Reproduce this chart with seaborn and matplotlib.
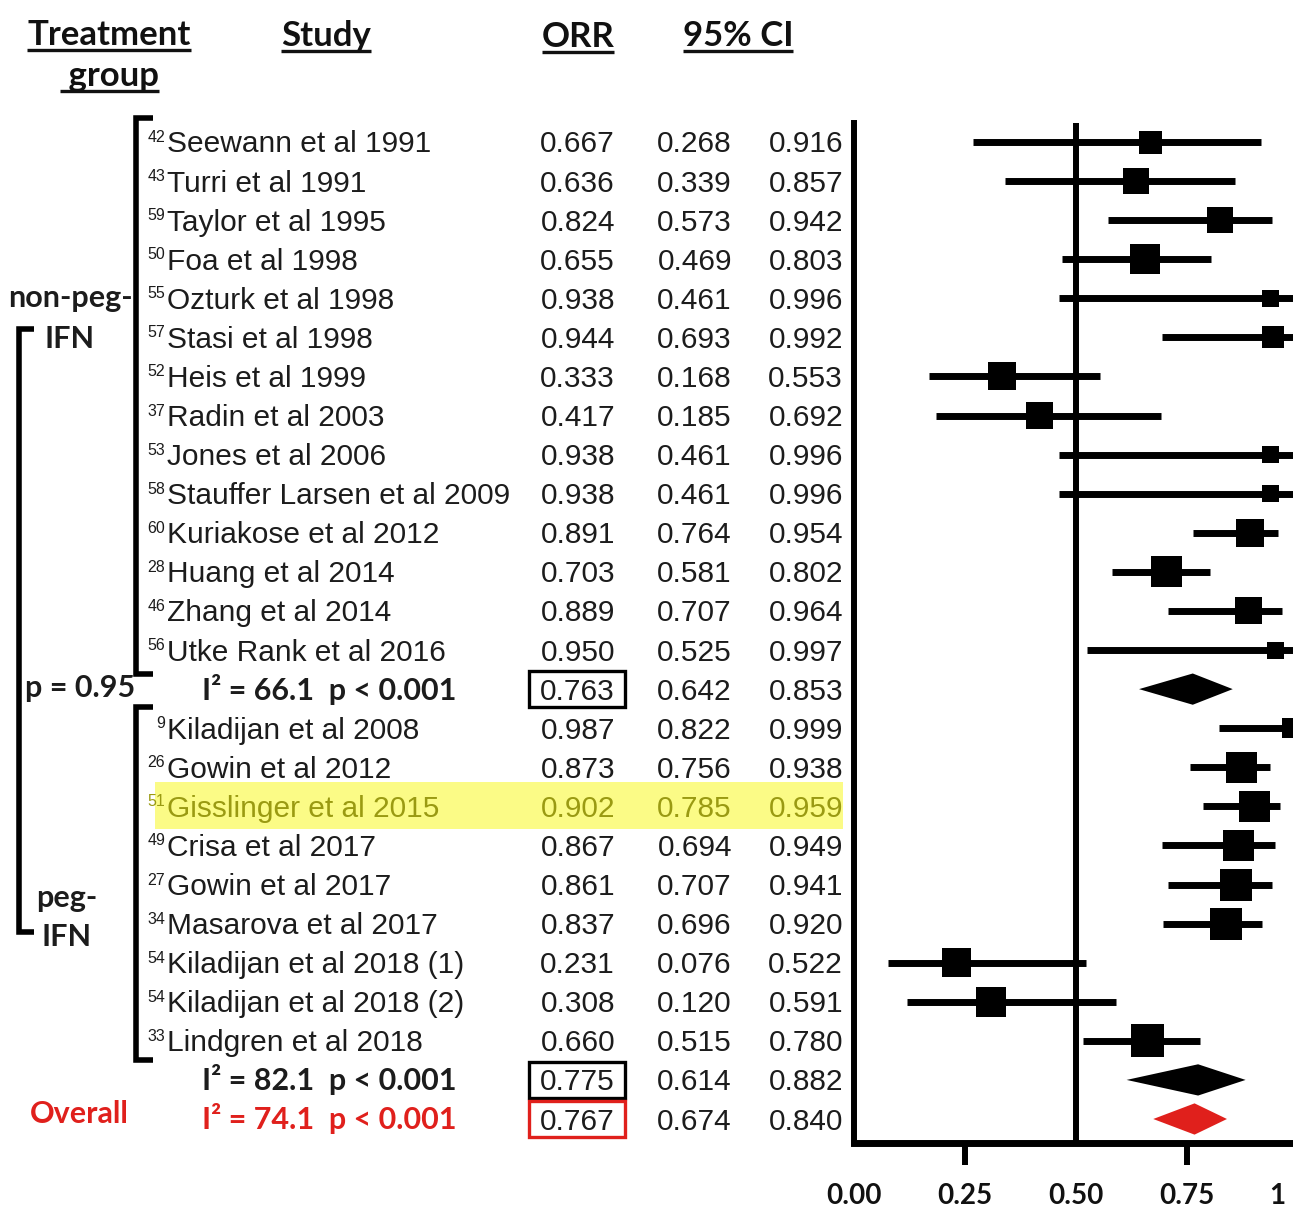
import matplotlib
matplotlib.use("Agg")
import pandas as pd
import matplotlib.pyplot as plt
import matplotlib.transforms as mtransforms
from matplotlib.patches import Rectangle, Polygon
import seaborn as sns

# ---------------- data ----------------
nonpeg_study = ["Seewann et al 1991", "Turri et al 1991", "Taylor et al 1995", "Foa et al 1998",
                "Ozturk et al 1998", "Stasi et al 1998", "Heis et al 1999", "Radin et al 2003",
                "Jones et al 2006", "Stauffer Larsen et al 2009", "Kuriakose et al 2012",
                "Huang et al 2014", "Zhang et al 2014", "Utke Rank et al 2016"]
nonpeg_ref = ["42", "43", "59", "50", "55", "57", "52", "37", "53", "58", "60", "28", "46", "56"]
nonpeg_orr = [0.667, 0.636, 0.824, 0.655, 0.938, 0.944, 0.333, 0.417, 0.938, 0.938, 0.891, 0.703, 0.889, 0.950]
nonpeg_lo = [0.268, 0.339, 0.573, 0.469, 0.461, 0.693, 0.168, 0.185, 0.461, 0.461, 0.764, 0.581, 0.707, 0.525]
nonpeg_hi = [0.916, 0.857, 0.942, 0.803, 0.996, 0.992, 0.553, 0.692, 0.996, 0.996, 0.954, 0.802, 0.964, 0.997]
nonpeg_weight = [23, 26, 26, 30, 17, 22, 28, 27, 17, 17, 28, 31, 27, 17]

peg_study = ["Kiladijan et al 2008", "Gowin et al 2012", "Gisslinger et al 2015", "Crisa et al 2017",
             "Gowin et al 2017", "Masarova et al 2017", "Kiladijan et al 2018 (1)",
             "Kiladijan et al 2018 (2)", "Lindgren et al 2018"]
peg_ref = ["9", "26", "51", "49", "27", "34", "54", "54", "33"]
peg_orr = [0.987, 0.873, 0.902, 0.867, 0.861, 0.837, 0.231, 0.308, 0.660]
peg_lo = [0.822, 0.756, 0.785, 0.694, 0.707, 0.696, 0.076, 0.120, 0.515]
peg_hi = [0.999, 0.938, 0.959, 0.949, 0.941, 0.920, 0.522, 0.591, 0.780]
peg_weight = [20, 31, 31, 31, 32, 32, 29, 30, 33]

# pooled estimates: non-peg, peg, overall
pooled_name = ["non-peg", "peg", "overall"]
pooled_orr = [0.763, 0.775, 0.767]
pooled_lo = [0.642, 0.614, 0.674]
pooled_hi = [0.853, 0.882, 0.840]
pooled_i2 = ["66.1", "82.1", "74.1"]
between_p = "0.95"
highlight_study = "Gisslinger et al 2015"

xtick_vals = [0, 0.25, 0.5, 0.75, 1]
xtick_text = ["0.00", "0.25", "0.50", "0.75", "1"]

# ---------------- table ----------------
n1 = len(nonpeg_study)
df = pd.DataFrame({
    "study": nonpeg_study + peg_study,
    "ref": nonpeg_ref + peg_ref,
    "orr": nonpeg_orr + peg_orr,
    "lo": nonpeg_lo + peg_lo,
    "hi": nonpeg_hi + peg_hi,
    "weight": nonpeg_weight + peg_weight,
    "row": list(range(n1)) + list(range(n1 + 1, n1 + 1 + len(peg_study))),
})
pooled = pd.DataFrame({"name": pooled_name, "orr": pooled_orr, "lo": pooled_lo,
                       "hi": pooled_hi, "i2": pooled_i2,
                       "row": [n1, n1 + 1 + len(peg_study), n1 + 2 + len(peg_study)]})

sns.set_theme(style="white")
plt.rcParams['font.family'] = ['Liberation Sans', 'DejaVu Sans']

W, H = 1293, 1210
fig = plt.figure(figsize=(W / 100, H / 100), dpi=100)

# text layer in pixel coordinates
tx = fig.add_axes([0, 0, 1, 1])
tx.set_xlim(0, W)
tx.set_ylim(H, 0)
tx.axis('off')

ROW0, STEP = 142, 39.08


def ypix(r):
    return ROW0 + STEP * r


INK = '#1c1c1c'
RED = '#e0201c'
OLIVE = '#9a9a12'
NUM_FS = 21.5
BOLD = dict(family=['Lato', 'DejaVu Sans'], weight='bold')

# highlight band
hl_row = df.loc[df.study == highlight_study, "row"].iloc[0]
tx.add_patch(Rectangle((155, ypix(hl_row) - 24), 688, 47, facecolor='#fbfb86',
                       edgecolor='none', zorder=0))

# study rows
for _, r in df.iterrows():
    y = ypix(r.row)
    col = OLIVE if r.study == highlight_study else INK
    tx.text(165, y, r.ref, fontsize=11.5, ha='right', va='baseline', color=col)
    tx.text(167, y + 10.5, r.study, fontsize=NUM_FS, ha='left', va='baseline', color=col)
    tx.text(615, y + 10.5, f"{r.orr:.3f}", fontsize=NUM_FS, ha='right', va='baseline', color=col)
    tx.text(732, y + 10.5, f"{r.lo:.3f}", fontsize=NUM_FS, ha='right', va='baseline', color=col)
    tx.text(843, y + 10.5, f"{r.hi:.3f}", fontsize=NUM_FS, ha='right', va='baseline', color=col)

# pooled rows
for k, r in pooled.iterrows():
    y = ypix(r.row)
    col = RED if r['name'] == "overall" else INK
    box = RED if r['name'] == "overall" else 'black'
    tx.text(202, y + 10.5, f"I\u00b2 = {r.i2}  p < 0.001", fontsize=22, ha='left',
            va='baseline', color=col, **BOLD)
    tx.text(615, y + 10.5, f"{r.orr:.3f}", fontsize=NUM_FS, ha='right', va='baseline', color=INK)
    tx.text(732, y + 10.5, f"{r.lo:.3f}", fontsize=NUM_FS, ha='right', va='baseline', color=INK)
    tx.text(843, y + 10.5, f"{r.hi:.3f}", fontsize=NUM_FS, ha='right', va='baseline', color=INK)
    tx.add_patch(Rectangle((529, y - 18), 96, 36, facecolor='none', edgecolor=box,
                           linewidth=2.4, zorder=2))

# group labels and brackets
tx.text(70, 307, "non-peg-", fontsize=22, ha='center', va='baseline', color=INK, **BOLD)
tx.text(70, 348, "IFN", fontsize=22, ha='center', va='baseline', color=INK, **BOLD)
tx.text(80, 697, f"p = {between_p}", fontsize=22, ha='center', va='baseline', color=INK, **BOLD)
tx.text(67, 907, "peg-", fontsize=22, ha='center', va='baseline', color=INK, **BOLD)
tx.text(67, 946, "IFN", fontsize=22, ha='center', va='baseline', color=INK, **BOLD)
tx.text(79, 1123, "Overall", fontsize=22, ha='center', va='baseline', color=RED, **BOLD)

bk = dict(color='black', lw=4, solid_capstyle='butt', solid_joinstyle='miter')
tx.plot([153, 136, 136, 153], [118, 118, 674, 674], **bk)
tx.plot([153, 136, 136, 153], [707, 707, 1060, 1060], **bk)
tx.plot([34, 19, 19, 34], [329, 329, 932, 932], **bk)

# headers
headers = [(109, 45, "Treatment"), (109, 86, " group"), (326, 46, "Study"),
           (578, 47, "ORR"), (738, 46, "95% CI")]
head_txt = []
for x, yb, s in headers:
    t = tx.text(x, yb, s, fontsize=25, ha='center', va='baseline', color='#111111', **BOLD)
    head_txt.append((t, yb))

# ---------------- forest panel ----------------
top_px, bot_px, x0_px, x1_px = 123, 1143, 854, 1298
ax = fig.add_axes([x0_px / W, 1 - bot_px / H, (x1_px - x0_px) / W, (bot_px - top_px) / H])
ax.set_facecolor('none')

ax.axvline(0.5, color='black', lw=4.3, zorder=1)
ax.hlines(df.row, df.lo, df.hi, color='black', lw=5, capstyle='butt', zorder=2)
sns.scatterplot(x=df.orr.to_numpy(), y=df.row.to_numpy(), marker='s',
                s=((df.weight * 0.72) ** 2).to_numpy(), color='black', linewidth=0,
                legend=False, ax=ax, zorder=3)

for _, r in pooled.iterrows():
    fc = RED if r['name'] == "overall" else 'black'
    ax.add_patch(Polygon([(r.lo, r.row), (r.orr, r.row - 0.4), (r.hi, r.row),
                          (r.orr, r.row + 0.4)], closed=True, facecolor=fc,
                         edgecolor='none', zorder=3))

ax.set_xlim(0, 1)
ax.set_ylim((bot_px - ROW0) / STEP, (top_px - ROW0) / STEP)
ax.set_xlabel("")
ax.set_ylabel("")
ax.set_yticks([])
for s in ['top', 'right']:
    ax.spines[s].set_visible(False)
ax.spines['left'].set_linewidth(4.3)
ax.spines['bottom'].set_linewidth(5)
ax.spines['left'].set_color('black')
ax.spines['bottom'].set_color('black')
ax.spines['bottom'].set_capstyle('projecting')

# labels on major ticks (no marks); marks only at 0.25 and 0.75
ax.xaxis.remove_overlapping_locs = False
ax.set_xticks(xtick_vals[:-1])
ax.set_xticklabels(xtick_text[:-1])
ax.set_xticks([0.25, 0.75], minor=True)
ax.tick_params(axis='x', which='major', bottom=True, length=0, pad=29, labelsize=20,
               labelcolor='#111111')
ax.tick_params(axis='x', which='minor', bottom=True, length=16, width=4.3,
               direction='out', color='black')
for lbl in ax.get_xticklabels():
    lbl.set_fontfamily(['Lato', 'DejaVu Sans'])
    lbl.set_fontweight('bold')

# the right-most label sits at the cropped edge in the source, nudged inside
edge = mtransforms.offset_copy(ax.get_xaxis_transform(), fig=fig, x=-21, y=-40.3, units='dots')
ax.text(xtick_vals[-1], 0, xtick_text[-1], transform=edge, ha='center', va='top',
        fontsize=20, color='#111111', clip_on=False, **BOLD)

# underline the headers
fig.canvas.draw()
rend = fig.canvas.get_renderer()
for t, yb in head_txt:
    bb = t.get_window_extent(rend)
    tx.plot([bb.x0, bb.x1], [yb + 5, yb + 5], color='#111111', lw=2.4, solid_capstyle='butt')

fig.savefig("out.png", dpi=100)
